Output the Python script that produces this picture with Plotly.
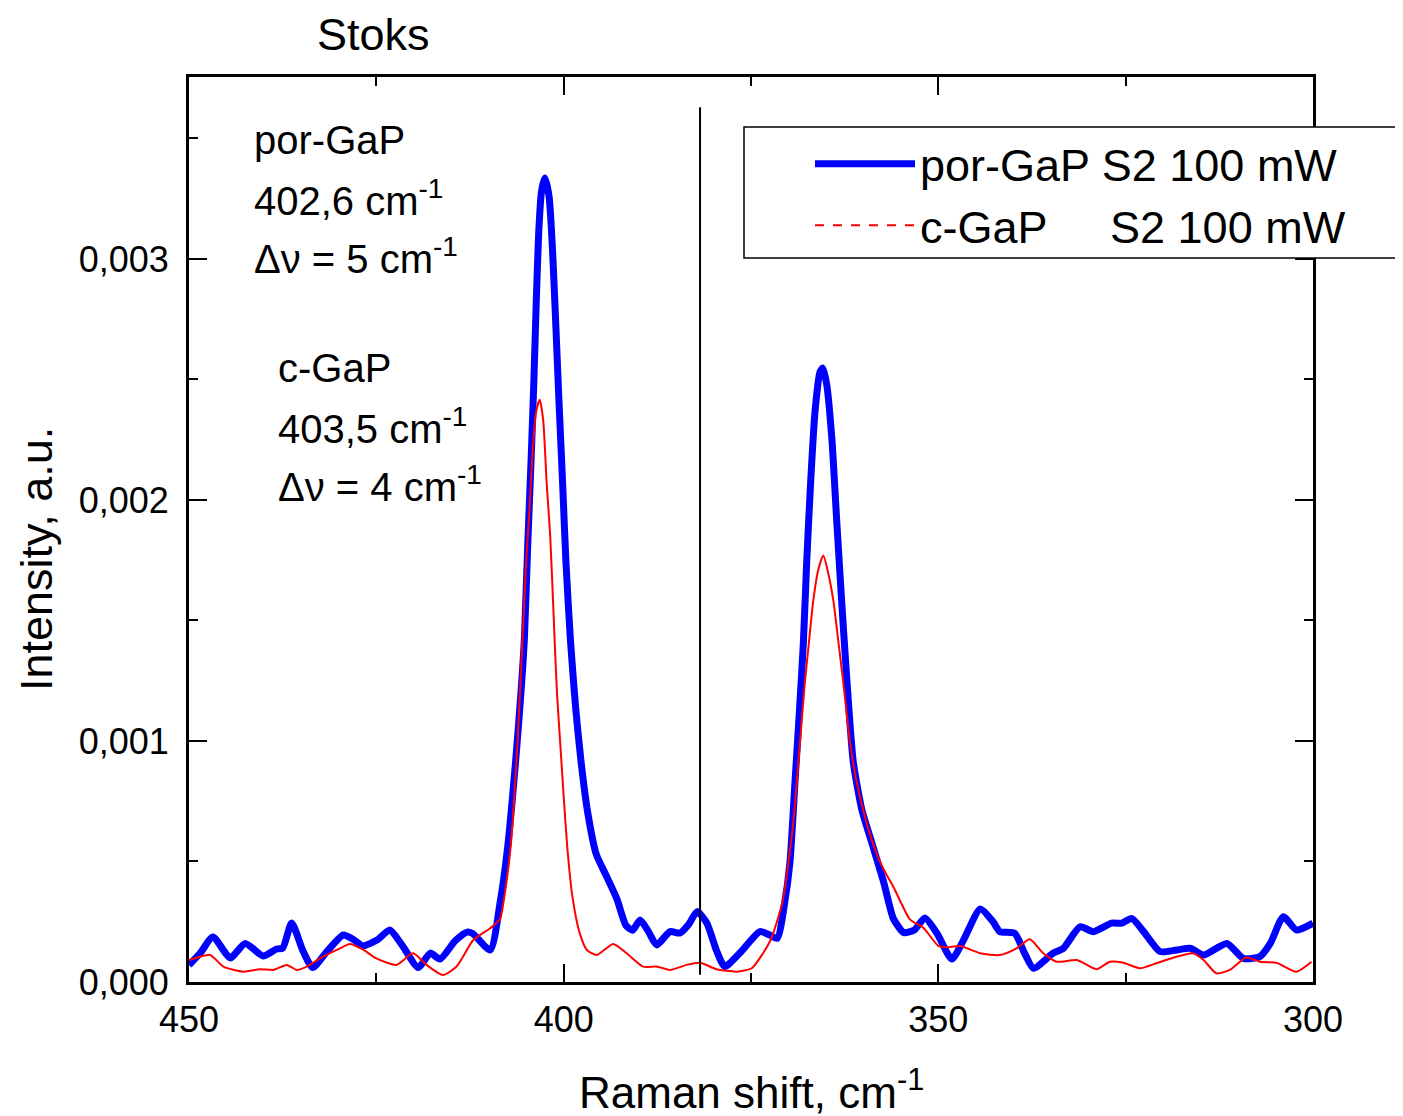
import plotly.graph_objects as go

# ---------------- data ----------------
por_x = [450.0, 448.5, 446.8, 444.5, 442.5, 440.1, 438.3, 437.5, 436.3, 434.8, 433.5, 431.5, 429.4, 428.0,
         426.8, 424.9, 423.2, 421.5, 419.4, 417.8, 416.5, 414.5, 412.9, 412.1, 409.8, 408.45, 407.5, 406.4,
         405.7, 405.25, 404.8, 404.33, 403.97, 403.65, 403.33, 402.96, 402.5, 401.95, 401.5, 401.04, 400.6,
         400.14, 399.7, 399.1, 398.4, 397.7, 396.8, 395.65, 394.3, 392.9, 391.7, 390.8, 389.8, 388.7, 387.6,
         385.8, 384.5, 383.3, 382.2, 380.9, 379.6, 378.5, 376.5, 373.8, 372.5, 371.5, 370.5, 369.8, 369.13,
         368.46, 368.0, 367.56, 367.03, 366.46, 365.8, 365.43, 364.9, 364.2, 363.56, 362.9, 362.2, 361.35,
         360.2, 358.9, 357.3, 356.0, 354.6, 353.2, 351.8, 350.2, 348.2, 346.7, 344.4, 342.7, 341.8, 339.8,
         338.5, 337.3, 334.7, 333.3, 331.1, 329.3, 326.9, 325.5, 324.2, 322.6, 320.4, 318.2, 316.4, 314.6,
         311.5, 309.3, 307.1, 305.7, 303.95, 302.2, 300.0]
por_y = [0.000070, 0.000120, 0.000187, 0.000100, 0.000160, 0.000108, 0.000137, 0.000140, 0.000245, 0.000130,
         0.000060, 0.000130, 0.000195, 0.000175, 0.000150, 0.000174, 0.000216, 0.000150, 0.000060, 0.000120,
         0.000095, 0.000170, 0.000207, 0.000200, 0.000133, 0.000336, 0.000553, 0.000920, 0.001200, 0.001420,
         0.001810, 0.002180, 0.002500, 0.002830, 0.003110, 0.003280, 0.003336, 0.003260, 0.003045, 0.002720,
         0.002390, 0.002070, 0.001745, 0.001420, 0.001137, 0.000920, 0.000705, 0.000530, 0.000440, 0.000345,
         0.000235, 0.000215, 0.000257, 0.000210, 0.000154, 0.000209, 0.000203, 0.000240, 0.000292, 0.000245,
         0.000130, 0.000064, 0.000120, 0.000209, 0.000195, 0.000181, 0.000330, 0.000498, 0.000830, 0.001164,
         0.001415, 0.001747, 0.002080, 0.002365, 0.002530, 0.002548, 0.002480, 0.002250, 0.001914, 0.001580,
         0.001250, 0.000913, 0.000714, 0.000580, 0.000415, 0.000263, 0.000205, 0.000216, 0.000266, 0.000203,
         0.000095, 0.000170, 0.000303, 0.000250, 0.000209, 0.000202, 0.000120, 0.000057, 0.000119, 0.000140,
         0.000229, 0.000209, 0.000244, 0.000244, 0.000264, 0.000209, 0.000126, 0.000133, 0.000140, 0.000112,
         0.000160, 0.000098, 0.000105, 0.000160, 0.000271, 0.000216, 0.000244]

c_x = [450.0, 447.2, 445.4, 442.75, 440.5, 438.75, 436.96, 435.6, 434.3, 432.5, 430.3, 428.5, 426.7, 425.0,
       422.3, 420.1, 418.3, 416.1, 414.3, 412.06, 409.8, 408.5, 408.0, 407.1, 406.17, 405.5, 405.0, 404.56,
       404.1, 403.65, 403.2, 402.73, 402.27, 401.8, 401.35, 400.9, 400.45, 400.0, 399.5, 398.85, 397.9, 396.9,
       395.6, 393.4, 391.6, 389.4, 387.6, 385.8, 383.6, 381.8, 379.6, 376.9, 374.9, 373.4, 372.45, 371.6,
       370.7, 369.35, 368.46, 367.8, 367.2, 366.7, 366.0, 365.35, 364.7, 364.0, 363.35, 362.7, 361.8, 360.9,
       359.6, 358.2, 357.0, 356.0, 355.0, 353.8, 352.0, 350.0, 348.9, 347.1, 344.4, 341.8, 339.55, 337.8,
       336.0, 334.2, 331.5, 328.9, 327.1, 325.3, 323.1, 320.9, 318.2, 316.0, 314.6, 312.9, 311.1, 308.9,
       307.1, 304.9, 302.2, 300.2]
c_y = [0.000091, 0.000112, 0.000064, 0.000043, 0.000053, 0.000050, 0.000071, 0.000050, 0.000064, 0.000098,
       0.000133, 0.000158, 0.000133, 0.000098, 0.000071, 0.000119, 0.000071, 0.000029, 0.000064, 0.000174,
       0.000223, 0.000260, 0.000337, 0.000553, 0.000987, 0.001420, 0.001745, 0.001960, 0.002220, 0.002370,
       0.002416, 0.002330, 0.002070, 0.001853, 0.001528, 0.001203, 0.000987, 0.000770, 0.000553, 0.000358,
       0.000207, 0.000133, 0.000112, 0.000158, 0.000119, 0.000064, 0.000064, 0.000050, 0.000071, 0.000080,
       0.000053, 0.000043, 0.000057, 0.000119, 0.000170, 0.000244, 0.000347, 0.000664, 0.000997, 0.001247,
       0.001430, 0.001580, 0.001714, 0.001770, 0.001697, 0.001580, 0.001415, 0.001247, 0.000997, 0.000830,
       0.000664, 0.000530, 0.000450, 0.000395, 0.000330, 0.000260, 0.000225, 0.000150, 0.000144, 0.000149,
       0.000119, 0.000112, 0.000140, 0.000177, 0.000119, 0.000084, 0.000091, 0.000053, 0.000084, 0.000080,
       0.000057, 0.000078, 0.000105, 0.000119, 0.000091, 0.000036, 0.000050, 0.000102, 0.000084, 0.000080,
       0.000043, 0.000084]

x_ticks = [450, 400, 350, 300]
y_ticks = [0.0, 0.001, 0.002, 0.003]
y_tick_labels = ["0,000", "0,001", "0,002", "0,003"]
marker_line_x = 381.8
marker_line_y = [0.00003, 0.00363]

series_names = ["por-GaP S2 100 mW", "c-GaP&nbsp;&nbsp;&nbsp;&nbsp;&nbsp;S2 100 mW"]
por_notes = ["por-GaP", "402,6 cm<sup>-1</sup>", "\u0394\u03bd = 5 cm<sup>-1</sup>"]
c_notes = ["c-GaP", "403,5 cm<sup>-1</sup>", "\u0394\u03bd = 4 cm<sup>-1</sup>"]

# ---------------- figure ----------------
FONT = "Liberation Sans, Arial, sans-serif"
# page is offset by the 8px body margin; figure sized to fit the window exactly
OFF = 8
W, H = 1403 - OFF, 1116 - OFF
L, R, T, B = 189, 1313, 77, 982   # plot area in page pixels

def px_x(p):
    return (p - L) / (R - L)

def px_y(p):
    return (B - p) / (B - T)

fig = go.Figure()
fig.add_trace(go.Scatter(x=por_x, y=por_y, mode="lines", name=series_names[0],
                         line=dict(color="#0000ff", width=7, shape="spline", smoothing=0.6)))
fig.add_trace(go.Scatter(x=c_x, y=c_y, mode="lines", showlegend=False,
                         line=dict(color="#ff0000", width=2, shape="spline", smoothing=0.6)))
# legend entry for red series (dashed sample as in reference)
fig.add_trace(go.Scatter(x=[None], y=[None], mode="lines", name=series_names[1],
                         line=dict(color="#ff0000", width=2, dash="dash")))

fig.add_shape(type="line", xref="x", yref="y", x0=marker_line_x, x1=marker_line_x,
              y0=marker_line_y[0], y1=marker_line_y[1], line=dict(color="black", width=2))

# legend frame (white, covers the right axis, extends past the right edge like the reference)
fig.add_shape(type="rect", xref="paper", yref="paper", x0=px_x(744), x1=px_x(1420),
              y0=px_y(258), y1=px_y(127), line=dict(color="black", width=1.5), fillcolor="white",
              layer="above")

ann = []
for i, t in enumerate(por_notes):
    ann.append(dict(text=t, x=px_x(252), y=px_y([140, 198, 256][i]), xref="paper", yref="paper",
                    xanchor="left", yanchor="middle", showarrow=False,
                    font=dict(family=FONT, size=40, color="black")))
for i, t in enumerate(c_notes):
    ann.append(dict(text=t, x=px_x(276), y=px_y([368, 426, 484][i]), xref="paper", yref="paper",
                    xanchor="left", yanchor="middle", showarrow=False,
                    font=dict(family=FONT, size=40, color="black")))
ann.append(dict(text="Stoks", x=px_x(373), y=px_y(34), xref="paper", yref="paper",
                xanchor="center", yanchor="middle", showarrow=False, borderpad=0,
                font=dict(family=FONT, size=45, color="black")))
ann.append(dict(text="Raman shift, cm<sup>-1</sup>", x=0.5, y=px_y(1089), xref="paper", yref="paper",
                xanchor="center", yanchor="middle", showarrow=False, borderpad=0,
                font=dict(family=FONT, size=44, color="black")))
ann.append(dict(text="Intensity, a.u.", x=px_x(36), y=px_y(559), xref="paper", yref="paper",
                xanchor="center", yanchor="middle", showarrow=False, textangle=-90,
                font=dict(family=FONT, size=45, color="black")))

fig.update_layout(
    width=W, height=H,
    margin=dict(l=L - OFF, r=W + OFF - R, t=T - OFF, b=H + OFF - B, pad=0),
    paper_bgcolor="white", plot_bgcolor="white",
    font=dict(family=FONT, color="black"),
    annotations=ann,
    showlegend=True,
    legend=dict(x=px_x(810), y=px_y(128), xanchor="left", yanchor="top",
                bgcolor="rgba(0,0,0,0)", borderwidth=0, itemwidth=100,
                font=dict(family=FONT, size=45, color="black"), tracegroupgap=0),
)
fig.update_xaxes(range=[450, 300], autorange=False, tickmode="array", tickvals=x_ticks,
                 ticks="inside", ticklen=18, tickwidth=2, tickcolor="black",
                 showline=True, linewidth=3, linecolor="black", mirror="allticks",
                 showgrid=False, zeroline=False, ticklabelstandoff=4,
                 tickfont=dict(family=FONT, size=36, color="black"),
                 minor=dict(ticks="inside", ticklen=9, tickwidth=2, tickcolor="black", dtick=25, tick0=300,
                            showgrid=False))
fig.update_yaxes(range=[0, 0.003755], autorange=False, tickmode="array", tickvals=y_ticks,
                 ticktext=y_tick_labels,
                 ticks="inside", ticklen=18, tickwidth=2, tickcolor="black",
                 showline=True, linewidth=3, linecolor="black", mirror="allticks",
                 showgrid=False, zeroline=False, ticklabelstandoff=10,
                 tickfont=dict(family=FONT, size=36, color="black"),
                 minor=dict(ticks="inside", ticklen=9, tickwidth=2, tickcolor="black", dtick=0.0005, tick0=0,
                            showgrid=False))

fig.write_html("out.html")
